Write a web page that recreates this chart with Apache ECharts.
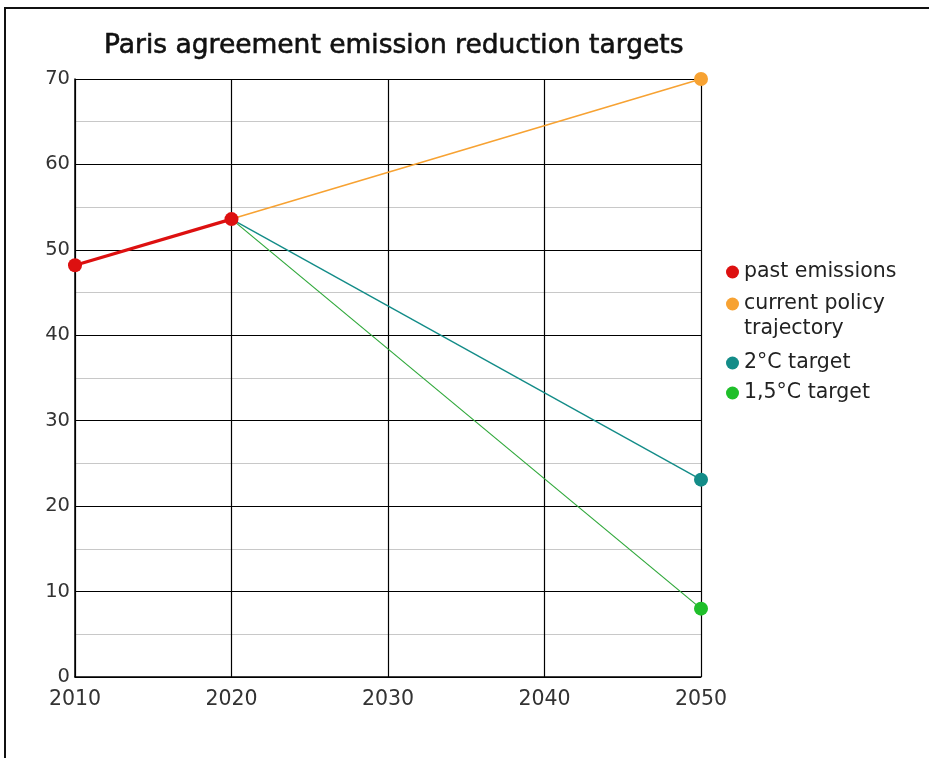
<!DOCTYPE html>
<html>
<head>
<meta charset="utf-8">
<script src="https://cdn.jsdelivr.net/npm/echarts@6/dist/echarts.min.js"></script>
<style>
  html, body { margin: 0; padding: 0; background: #fff; }
  #chart { width: 929px; height: 758px; }
</style>
</head>
<body>
<div id="chart"></div>
<script>
// Data
const xTicks = [2010, 2020, 2030, 2040, 2050];
const pastEmissions = [[2010, 48.2], [2020, 53.6]];
const currentPolicy = [[2020, 53.6], [2050, 70]];
const target2C = [[2020, 53.6], [2050, 23.1]];
const target15C = [[2020, 53.6], [2050, 8.0]];
const seriesNames = ['past emissions', 'current policy trajectory', '2°C target', '1,5°C target'];
const legendLabels = ['past emissions', '\ncurrent policy\ntrajectory', '2°C target', '1,5°C target'];
const titleText = 'Paris agreement emission reduction targets';

const FONT = 'DejaVu Sans';
const colors = {
  past: '#dd1010',
  policy: '#f7a232',
  c2: '#138c88',
  c15: '#1fbf2a'
};

function endOnly(data) {
  return data.map((d, i) => i === 0 ? { value: d, symbol: 'none' } : { value: d });
}

const legendBase = {
  orient: 'vertical',
  left: 726,
  padding: 0,
  itemWidth: 13,
  itemHeight: 13,
  icon: 'circle',
  selectedMode: false,
  textStyle: { fontFamily: FONT, fontSize: 20.5, color: '#222', lineHeight: 25 }
};

function legendFor(i, top) {
  return Object.assign({}, legendBase, {
    top: top,
    data: [seriesNames[i]],
    formatter: () => legendLabels[i]
  });
}

const option = {
  animation: false,
  backgroundColor: '#fff',
  title: {
    text: titleText,
    left: 99,
    top: 28,
    textStyle: {
      fontFamily: FONT, fontSize: 26.5, fontWeight: 'normal', color: '#111',
      textBorderColor: '#111', textBorderWidth: 0.6
    }
  },
  legend: [
    legendFor(0, 259.5),
    legendFor(1, 266.5),
    legendFor(2, 350.5),
    legendFor(3, 380.5)
  ],
  grid: { left: 75, right: 228, top: 79, bottom: 81, containLabel: false },
  xAxis: {
    type: 'value',
    min: 2010,
    max: 2050,
    interval: 10,
    axisLine: { show: true, lineStyle: { color: '#000', width: 1.5 } },
    axisTick: { show: false },
    axisLabel: { fontFamily: FONT, fontSize: 20.5, color: '#333', margin: 12, formatter: v => String(v) },
    splitLine: { show: true, lineStyle: { color: '#000', width: 1.2 } }
  },
  yAxis: {
    type: 'value',
    min: 0,
    max: 70,
    interval: 10,
    axisLine: { show: true, lineStyle: { color: '#000', width: 1.5 } },
    axisTick: { show: false },
    axisLabel: { fontFamily: FONT, fontSize: 19.5, color: '#333', margin: 5 },
    splitLine: { show: true, lineStyle: { color: '#000', width: 1.2 } },
    minorTick: { show: false, splitNumber: 2 },
    minorSplitLine: { show: true, lineStyle: { color: '#c8c8c8', width: 1.2 } }
  },
  graphic: [{
    type: 'rect',
    silent: true,
    shape: { x: 5, y: 8, width: 1000, height: 1000 },
    style: { fill: 'none', stroke: '#111', lineWidth: 2 },
    z: 100
  }],
  series: [
    {
      name: seriesNames[1], type: 'line', data: endOnly(currentPolicy),
      color: colors.policy, symbol: 'circle', symbolSize: 14,
      lineStyle: { width: 1.6, color: colors.policy }, z: 2
    },
    {
      name: seriesNames[2], type: 'line', data: endOnly(target2C),
      color: colors.c2, symbol: 'circle', symbolSize: 14,
      lineStyle: { width: 1.4, color: colors.c2 }, z: 2
    },
    {
      name: seriesNames[3], type: 'line', data: endOnly(target15C),
      color: colors.c15, symbol: 'circle', symbolSize: 14,
      lineStyle: { width: 1.2, color: '#2fa83a' }, z: 2
    },
    {
      name: seriesNames[0], type: 'line', data: pastEmissions,
      color: colors.past, symbol: 'circle', symbolSize: 14,
      lineStyle: { width: 3.2, color: colors.past }, z: 3
    }
  ]
};

const chart = echarts.init(document.getElementById('chart'), null, { renderer: 'canvas' });
chart.setOption(option);
</script>
</body>
</html>
